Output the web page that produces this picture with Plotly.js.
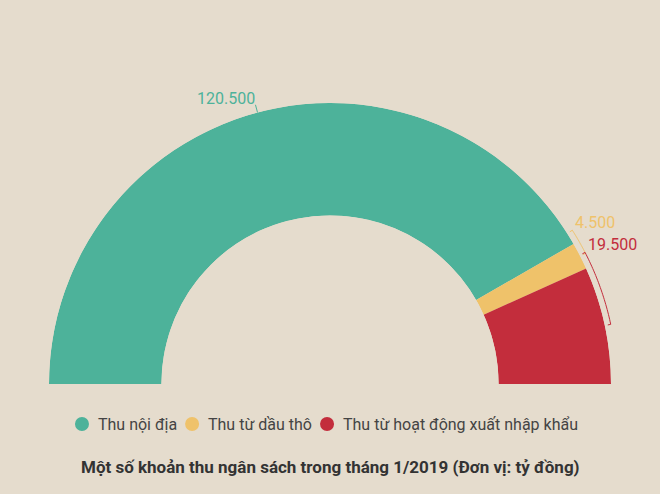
<!DOCTYPE html>
<html>
<head>
<meta charset="utf-8">
<script src="https://cdn.plot.ly/plotly-3.0.1.min.js"></script>
<style>
  html, body { margin: 0; padding: 0; background: #e5dccd; }
  #chart { width: 660px; height: 494px; }
</style>
</head>
<body>
<div id="chart"></div>
<script>
let categories = ['Thu nội địa', 'Thu từ dầu thô', 'Thu từ hoạt động xuất nhập khẩu'];
let values = [120500, 4500, 19500];
let valueLabels = ['120.500', '4.500', '19.500'];
let colors = ['#4db29a', '#efc26a', '#c32d3c'];

let W = 660, H = 494;
let bg = '#e5dccd';

// geometry of the half donut, in pixels
let cx = 330, cy = 384, R = 281, hole = 0.6;

let total = values.reduce(function(a, b) { return a + b; }, 0);

function px(x) { return x / W; }
function py(y) { return 1 - y / H; }

// standard angle (deg, from east, ccw) -> pixel point
function pt(a, r) {
  let t = a * Math.PI / 180;
  return [cx + r * Math.cos(t), cy - r * Math.sin(t)];
}

let widths = [];
let centers = [];
let starts = [];
let acc = 0;
for(let i = 0; i < values.length; i++) {
  let w = values[i] / total * 180;
  starts.push(acc);
  widths.push(w);
  centers.push(acc + w / 2);
  acc += w;
}

let traces = [];
for(let i = 0; i < values.length; i++) {
  traces.push({
    type: 'barpolar',
    r: [1],
    theta: [centers[i]],
    width: [widths[i]],
    marker: { color: colors[i], line: { width: 0 } },
    name: categories[i],
    showlegend: false,
    hoverinfo: 'skip'
  });
}

function arcPath(a1, a2, r, tick) {
  let pts = [];
  pts.push(pt(a1, r - tick));
  let n = 30;
  for(let k = 0; k <= n; k++) {
    pts.push(pt(a1 + (a2 - a1) * k / n, r));
  }
  pts.push(pt(a2, r - tick));
  return pts.map(function(p, k) {
    return (k === 0 ? 'M' : 'L') + px(p[0]).toFixed(5) + ',' + py(p[1]).toFixed(5);
  }).join(' ');
}

let shapes = [];
let annotations = [];

// label for the big slice: leader tick at slice middle
let aMid = 180 - centers[0];
let lin = pt(aMid, R), lout = pt(aMid, R + 8);
shapes.push({
  type: 'line', xref: 'paper', yref: 'paper',
  x0: px(lin[0]), y0: py(lin[1]), x1: px(lout[0]), y1: py(lout[1]),
  line: { color: colors[0], width: 1 }
});
annotations.push({
  xref: 'paper', yref: 'paper', x: px(lout[0] + 2), y: py(lout[1] - 6),
  xanchor: 'right', yanchor: 'middle', showarrow: false,
  text: valueLabels[0], font: { family: 'Roboto', size: 16, color: colors[0] }
});

// brackets for the two small slices
let bracketShift = [0, 2.5, 3];
let bracketEnd = [0, 2.8, 12];
for(let i = 1; i < values.length; i++) {
  let a1 = 180 - starts[i] + bracketShift[i];
  let a2 = 180 - (starts[i] + widths[i]) + bracketEnd[i];
  shapes.push({
    type: 'path', xref: 'paper', yref: 'paper',
    path: arcPath(a1, a2, R + 6, 3),
    line: { color: colors[i], width: 1 }
  });
  let top = pt(a1, R + 6);
  annotations.push({
    xref: 'paper', yref: 'paper', x: px(top[0] + 1), y: py(top[1] - 8),
    xanchor: 'left', yanchor: 'middle', showarrow: false,
    text: valueLabels[i], font: { family: 'Roboto', size: 16, color: colors[i] }
  });
}

// legend drawn by hand: circle markers, tight spacing
let legendFont = 16, legendY = 424, dotR = 7, dotGap = 15, itemGap = 16, legendCenter = 326;
let ctx = document.createElement('canvas').getContext('2d');
ctx.font = legendFont + 'px Roboto';
let textW = categories.map(function(c) { return ctx.measureText(c).width; });
let totalW = 0;
for(let i = 0; i < categories.length; i++) {
  totalW += (i === 0 ? dotR : itemGap) + dotGap + textW[i];
}
let xpos = legendCenter - totalW / 2;
for(let i = 0; i < categories.length; i++) {
  let dotX = (i === 0) ? xpos + dotR : xpos + itemGap;
  shapes.push({
    type: 'circle', xref: 'paper', yref: 'paper',
    x0: px(dotX - dotR), x1: px(dotX + dotR),
    y0: py(legendY + dotR), y1: py(legendY - dotR),
    fillcolor: colors[i], line: { width: 0 }
  });
  annotations.push({
    xref: 'paper', yref: 'paper', x: px(dotX + dotGap), y: py(legendY),
    xanchor: 'left', yanchor: 'middle', showarrow: false, borderpad: 0,
    text: categories[i], font: { family: 'Roboto', size: legendFont, color: '#444444' }
  });
  xpos = dotX + dotGap + textW[i];
}

annotations.push({
  xref: 'paper', yref: 'paper', x: 0.5, y: py(467),
  xanchor: 'center', yanchor: 'middle', showarrow: false,
  text: '<b>Một số khoản thu ngân sách trong tháng 1/2019 (Đơn vị: tỷ đồng)</b>',
  font: { family: 'Roboto', size: 17, color: '#333333' }
});

let layout = {
  width: W,
  height: H,
  paper_bgcolor: bg,
  plot_bgcolor: bg,
  margin: { l: 0, r: 0, t: 0, b: 0 },
  showlegend: false,
  polar: {
    domain: { x: [px(cx - R), px(cx + R)], y: [py(cy), py(cy - R)] },
    sector: [0, 180],
    hole: hole,
    bgcolor: 'rgba(0,0,0,0)',
    bargap: 0,
    angularaxis: { visible: false, direction: 'clockwise', rotation: 180, showgrid: false },
    radialaxis: { visible: false, range: [0, 1], showgrid: false }
  },
  shapes: shapes,
  annotations: annotations
};

Plotly.newPlot('chart', traces, layout, { displayModeBar: false, staticPlot: true });
</script>
</body>
</html>
